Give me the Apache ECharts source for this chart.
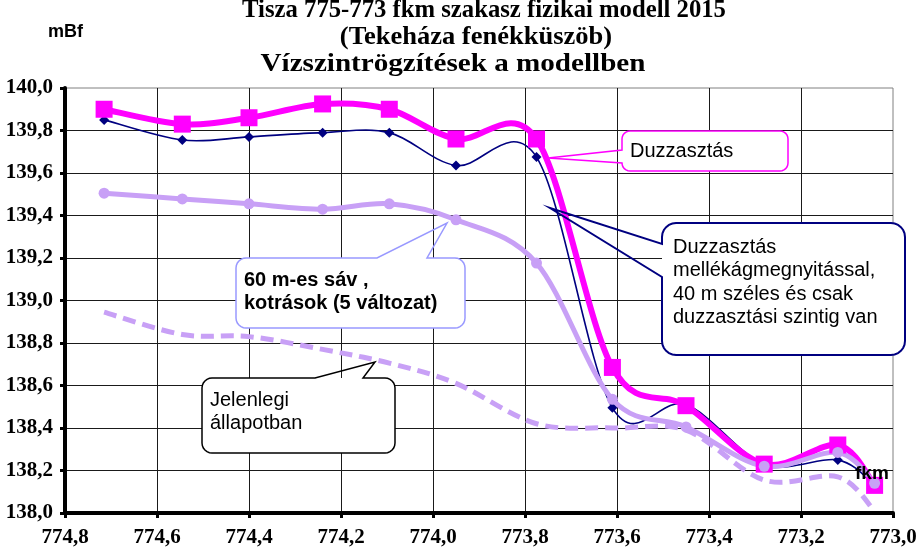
<!DOCTYPE html>
<html><head><meta charset="utf-8">
<script src="https://cdn.jsdelivr.net/npm/echarts@6/dist/echarts.min.js"></script>
<style>html,body{margin:0;padding:0;background:#fff}#c{width:921px;height:547px}</style>
</head><body><div id="c"></div>
<script>
// ---- data ----
const titleLines = ['Tisza 775-773 fkm szakasz fizikai modell 2015', '(Tekeháza fenékküszöb)', 'Vízszintrögzítések a modellben'];
const yUnit = 'mBf';
const xUnit = 'fkm';
const km = [774.715, 774.545, 774.40, 774.24, 774.095, 773.95, 773.775, 773.61, 773.45, 773.28, 773.12, 773.04];
const duzzasztas = [139.90, 139.83, 139.86, 139.925, 139.90, 139.76, 139.76, 138.685, 138.505, 138.23, 138.32, 138.13];
const mellekag   = [139.85, 139.755, 139.77, 139.79, 139.79, 139.635, 139.675, 138.495, 138.51, 138.23, 138.25, 138.13];
const sav60      = [139.505, 139.478, 139.455, 139.43, 139.455, 139.38, 139.176, 138.535, 138.405, 138.22, 138.285, 138.14];
const jelenlegi  = [138.945, 138.84, 138.83, 138.77, 138.705, 138.61, 138.42, 138.40, 138.39, 138.155, 138.17, 138.01];
const labelDuzz = ['Duzzasztás'];
const labelMellek = ['Duzzasztás', 'mellékágmegnyitással,', '40 m széles és csak', 'duzzasztási szintig van'];
const labelSav = ['60 m-es sáv ,', 'kotrások (5 változat)'];
const labelJelen = ['Jelenlegi', 'állapotban'];

// ---- build ----
const pairs = arr => km.map((x, i) => [x, arr[i]]);
const fmt = v => v.toFixed(1).replace('.', ',');
const LAV = '#C8A0F6';
const SANS = '"Liberation Sans", Arial, sans-serif';
const SERIF = '"Liberation Serif", "Times New Roman", serif';

function outline(x, y, w, h, r, wedge) {
  const pts = [];
  const arc = (cx, cy, a0, a1) => { for (let i = 0; i <= 6; i++) { const a = a0 + (a1 - a0) * i / 6; pts.push([cx + r * Math.cos(a), cy + r * Math.sin(a)]); } };
  arc(x + r, y + r, Math.PI, 1.5 * Math.PI);
  if (wedge.side === 'top') pts.push([wedge.a, y], wedge.tip, [wedge.b, y]);
  arc(x + w - r, y + r, 1.5 * Math.PI, 2 * Math.PI);
  arc(x + w - r, y + h - r, 0, 0.5 * Math.PI);
  arc(x + r, y + h - r, 0.5 * Math.PI, Math.PI);
  if (wedge.side === 'left') pts.push([x, wedge.b], wedge.tip, [x, wedge.a]);
  return pts;
}
const graphics = [];
function txt(x, y, t, font, align, scaleX) {
  return { type: 'text', z: 102, x: x, y: y, scaleX: scaleX || 1,
    style: { text: t, font: font, fill: '#000', align: align, verticalAlign: 'middle', textAlign: align, textVerticalAlign: 'middle' } };
}
function callout(box, wedge, stroke, lw, lines, font, tx, ty0, lh) {
  graphics.push({ type: 'rect', z: 100, shape: { x: box[0], y: box[1], width: box[2], height: box[3], r: box[4] }, style: { fill: '#fff', stroke: 'none' } });
  graphics.push({ type: 'polygon', z: 101, shape: { points: outline(box[0], box[1], box[2], box[3], box[4], wedge) }, style: { fill: 'none', stroke: stroke, lineWidth: lw } });
  lines.forEach((t, i) => graphics.push(txt(tx, ty0 + i * lh, t, font, 'left')));
}
callout([622, 131, 166, 40, 8], { side: 'left', a: 150, b: 163, tip: [548, 158] }, '#FF00FF', 1.5, labelDuzz, '20px ' + SANS, 630, 151, 0);
callout([662, 223, 243, 132, 14], { side: 'left', a: 244, b: 277, tip: [550, 208] }, '#000080', 2, labelMellek, '20px ' + SANS, 673, 247, 23.5);
callout([236, 258, 229, 70, 10], { side: 'top', a: 377, b: 427, tip: [447, 223] }, '#9999FF', 1.5, labelSav, 'bold 20px ' + SANS, 244, 280, 23.5);
callout([202, 378, 193, 75, 10], { side: 'top', a: 315, b: 363, tip: [375, 362] }, '#000', 1.5, labelJelen, '20px ' + SANS, 210, 400, 23.5);

const titleCenters = [484, 476, 453];
const titleScale = [0.95, 1.02, 1.12];
titleLines.forEach((t, i) => graphics.push(txt(titleCenters[i], 10 + i * 27, t, 'bold 26px ' + SERIF, 'center', titleScale[i])));
graphics.push(txt(48, 32, yUnit, 'bold 18px ' + SANS, 'left'));
graphics.push(txt(855, 474, xUnit, 'bold 19px ' + SANS, 'left'));

// smoothed curve (Catmull-Rom style bezier) through points placed by the axes
function curve(name, arr, color, width, dash) {
  return {
    name: name, type: 'custom', data: pairs(arr), encode: { x: 0, y: 1 }, silent: true, clip: false,
    renderItem: function (params, api) {
      if (params.dataIndex !== 0) return null;
      const n = arr.length, p = [];
      for (let i = 0; i < n; i++) p.push(api.coord([api.value(0, i), api.value(1, i)]));
      let d = 'M' + p[0][0] + ' ' + p[0][1];
      for (let i = 0; i < n - 1; i++) {
        const p0 = p[Math.max(i - 1, 0)], p1 = p[i], p2 = p[i + 1], p3 = p[Math.min(i + 2, n - 1)];
        const c1 = [p1[0] + (p2[0] - p0[0]) / 6, p1[1] + (p2[1] - p0[1]) / 6];
        const c2 = [p2[0] - (p3[0] - p1[0]) / 6, p2[1] - (p3[1] - p1[1]) / 6];
        d += ' C' + c1[0] + ' ' + c1[1] + ' ' + c2[0] + ' ' + c2[1] + ' ' + p2[0] + ' ' + p2[1];
      }
      return { type: 'path', shape: { pathData: d },
        style: { fill: 'none', stroke: color, lineWidth: width, lineDash: dash || null, lineCap: dash ? 'butt' : 'round', lineJoin: 'round' } };
    }
  };
}
function marks(name, arr, symbol, size, color) {
  return { name: name, type: 'scatter', data: pairs(arr), symbol: symbol, symbolSize: size, silent: true,
    itemStyle: { color: color, opacity: 1 } };
}

const chart = echarts.init(document.getElementById('c'), null, { renderer: 'canvas' });
chart.setOption({
  animation: false,
  backgroundColor: '#fff',
  grid: { left: 65, right: 28, top: 88, bottom: 34, containLabel: false, outerBoundsMode: 'none',
    show: true, borderColor: '#808080', borderWidth: 1, backgroundColor: 'transparent' },
  xAxis: {
    type: 'value', inverse: true, min: 773.0, max: 774.8, interval: 0.2,
    axisLine: { show: true, onZero: false, lineStyle: { color: '#000', width: 4 } },
    axisTick: { show: true, inside: false, length: 5, lineStyle: { color: '#000', width: 3 } },
    axisLabel: { margin: 14, formatter: fmt, fontFamily: SERIF, fontWeight: 'bold', fontSize: 21, color: '#000' },
    splitLine: { show: true, showMinLine: false, lineStyle: { color: '#1a1a1a', width: 1 } }
  },
  yAxis: {
    type: 'value', min: 138.0, max: 140.0, interval: 0.2,
    axisLine: { show: true, onZero: false, lineStyle: { color: '#000', width: 4 } },
    axisTick: { show: true, inside: false, length: 5, lineStyle: { color: '#000', width: 3 } },
    axisLabel: { margin: 12, formatter: fmt, fontFamily: SERIF, fontWeight: 'bold', fontSize: 21, color: '#000' },
    splitLine: { show: true, showMaxLine: false, lineStyle: { color: '#1a1a1a', width: 1 } }
  },
  series: [
    curve('Jelenlegi állapotban', jelenlegi, LAV, 5, [13, 7]),
    curve('Duzzasztás mellékágmegnyitással', mellekag, '#000080', 1.6),
    marks('Duzzasztás mellékágmegnyitással', mellekag, 'diamond', 10, '#000080'),
    curve('Duzzasztás', duzzasztas, '#FF00FF', 6),
    marks('Duzzasztás', duzzasztas, 'rect', 17, '#FF00FF'),
    curve('60 m-es sáv', sav60, LAV, 5),
    marks('60 m-es sáv', sav60, 'circle', 11, LAV)
  ],
  graphic: { elements: graphics }
});
</script></body></html>
